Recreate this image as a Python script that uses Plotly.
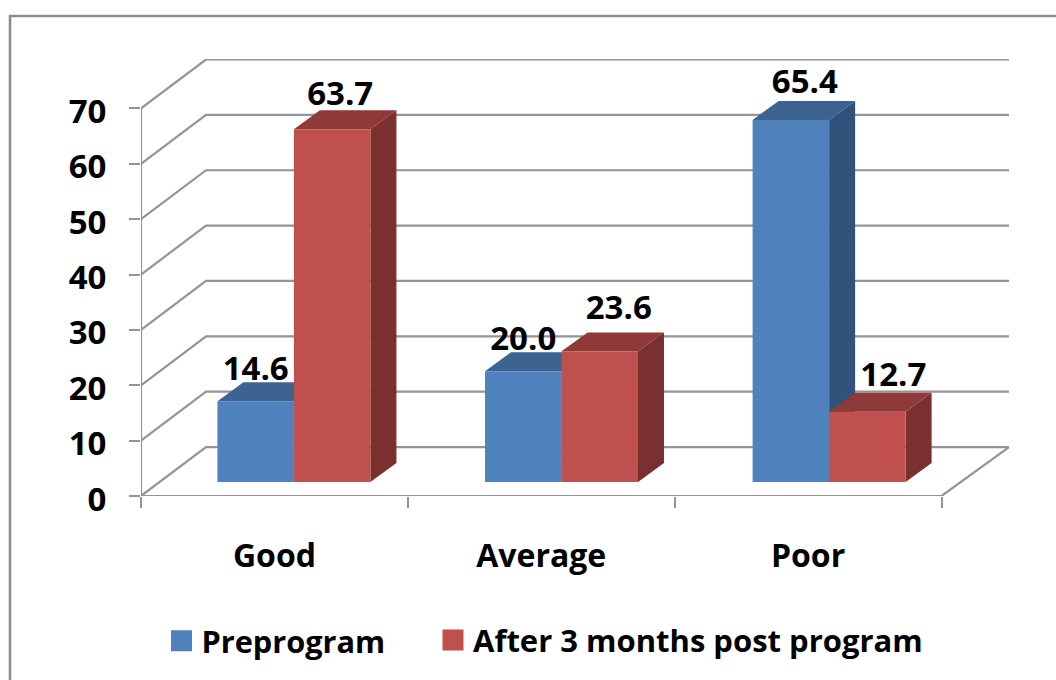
import plotly.graph_objects as go

categories = ["Good", "Average", "Poor"]
preprogram = [14.6, 20.0, 65.4]
post_program = [63.7, 23.6, 12.7]
y_ticks = [0, 10, 20, 30, 40, 50, 60, 70]

# layout geometry (pixels)
W, H = 1056, 680
L, R, T, B = 141, 1009, 59, 496.5
PX_X = 800.5 / 3          # pixels per category
PX_Y = 388 / 70           # pixels per value unit
XMAX = (R - L) / PX_X
YMAX = (B - T) / PX_Y
WALL_DX, WALL_DY = 65 / PX_X, 49 / PX_Y
BAR_W = 76.5 / PX_X
BAR_STEP = 267.6 / PX_X
BAR_DX, BAR_DY = 26 / PX_X, 19 / PX_Y
FLOOR_DX, FLOOR_DY = 19.5 / PX_X, 14 / PX_Y

FONT = "Open Sans"
INK = "#000000"
GRID = "#949494"
BLUE, BLUE_TOP, BLUE_SIDE = "#4F81BD", "#3D6491", "#31537B"
RED, RED_TOP, RED_SIDE = "#C0504D", "#8F3A38", "#79302E"

# label nudges per bar, in pixels from the bar's front top-centre
label_dx_pre = [0, 0, 14]
label_dy_pre = [29, 30, 35]
label_dx_post = [8, 19, 26]
label_dy_post = [33, 41, 34]

fig = go.Figure()


def line(xs, ys):
    fig.add_trace(go.Scatter(x=xs, y=ys, mode="lines", showlegend=False, hoverinfo="skip",
                             cliponaxis=False, line=dict(color=GRID, width=2.2), zorder=0))


for v in y_ticks:
    line([0, WALL_DX, XMAX], [v, v + WALL_DY, v + WALL_DY])
line([0, 0], [0, y_ticks[-1]])
line([0, 3, XMAX], [0, 0, WALL_DY])


def series(name, values, side_sign, front, top, side, z, legend_id):
    xs = [i * BAR_STEP + 0.5 + FLOOR_DX + side_sign * BAR_W / 2 for i in range(len(values))]
    for x, v in zip(xs, values):
        x0, x1 = x - BAR_W / 2, x + BAR_W / 2
        y0, y1 = FLOOR_DY, FLOOR_DY + v
        fig.add_trace(go.Scatter(
            x=[x0, x0 + BAR_DX, x1 + BAR_DX, x1, x0],
            y=[y1, y1 + BAR_DY, y1 + BAR_DY, y1, y1],
            mode="lines", fill="toself", fillcolor=top, line=dict(width=0),
            showlegend=False, hoverinfo="skip", zorder=z, cliponaxis=False))
        fig.add_trace(go.Scatter(
            x=[x1, x1 + BAR_DX, x1 + BAR_DX, x1, x1],
            y=[y1, y1 + BAR_DY, y0 + BAR_DY, y0, y1],
            mode="lines", fill="toself", fillcolor=side, line=dict(width=0),
            showlegend=False, hoverinfo="skip", zorder=z, cliponaxis=False))
    fig.add_trace(go.Bar(x=xs, y=values, base=FLOOR_DY, width=BAR_W, marker=dict(color=front, line=dict(width=0)),
                         showlegend=False, hoverinfo="skip", zorder=z + 1))
    # legend entry
    fig.add_trace(go.Scatter(x=[None], y=[None], mode="markers", name=name, legend=legend_id,
                             marker=dict(symbol="square", size=16, color=front, line=dict(color=front, width=5))))
    return xs


xs_pre = series("Preprogram", preprogram, -1, BLUE, BLUE_TOP, BLUE_SIDE, 1, "legend")
xs_post = series("After 3 months post program", post_program, 1, RED, RED_TOP, RED_SIDE, 3, "legend2")

fig.add_trace(go.Scatter(
    x=[x + d / PX_X for x, d in zip(xs_pre + xs_post, label_dx_pre + label_dx_post)],
    y=[FLOOR_DY + v + d / PX_Y for v, d in zip(preprogram + post_program, label_dy_pre + label_dy_post)],
    text=[f"{v:.1f}" for v in preprogram + post_program],
    mode="text", textposition="middle center", cliponaxis=False, showlegend=False, hoverinfo="skip", zorder=6,
    textfont=dict(family=FONT, size=33, color=INK, weight=700)))


def legend_at(px, size):
    return dict(x=(px - L) / (R - L), xanchor="left", y=(B - 668) / (B - T), yanchor="bottom",
                font=dict(family=FONT, size=size, color=INK, weight=700), bgcolor="rgba(0,0,0,0)")


fig.update_layout(
    width=W, height=H, autosize=False,
    margin=dict(l=L, r=W - R, t=T, b=H - B, pad=0),
    paper_bgcolor="white", plot_bgcolor="white",
    barmode="overlay", showlegend=True,
    font=dict(family=FONT, color=INK),
    legend=legend_at(161.5, 30.7),
    legend2=legend_at(433, 31),
    xaxis=dict(range=[0, XMAX], showgrid=False, zeroline=False, showline=False, ticks="",
               tickmode="array", tickvals=[i + 0.5 for i in range(3)], ticktext=categories,
               ticklabelstandoff=38, tickfont=dict(family=FONT, size=32, color=INK, weight=700),
               minor=dict(tickmode="array", tickvals=[0, 1, 2, 3], ticks="outside", ticklen=11,
                          tickwidth=2, tickcolor=GRID, showgrid=False)),
    yaxis=dict(range=[0, YMAX], showgrid=False, zeroline=False, showline=False,
               tickmode="array", tickvals=y_ticks, ticks="outside", ticklen=11, tickwidth=2, tickcolor=GRID,
               ticklabelstandoff=16, ticklabelshift=3, tickfont=dict(family=FONT, size=33, color=INK, weight=700)),
    shapes=[dict(type="rect", xref="paper", yref="paper",
                 x0=(10 - L) / (R - L), x1=(1200 - L) / (R - L),
                 y0=(B - 800) / (B - T), y1=(B - 16) / (B - T),
                 line=dict(color="#8C8C8C", width=2.5), layer="below")],
)

fig.write_html("out.html", config={"displayModeBar": False},
               post_script="document.body.style.margin='0';document.body.style.overflow='hidden';")
